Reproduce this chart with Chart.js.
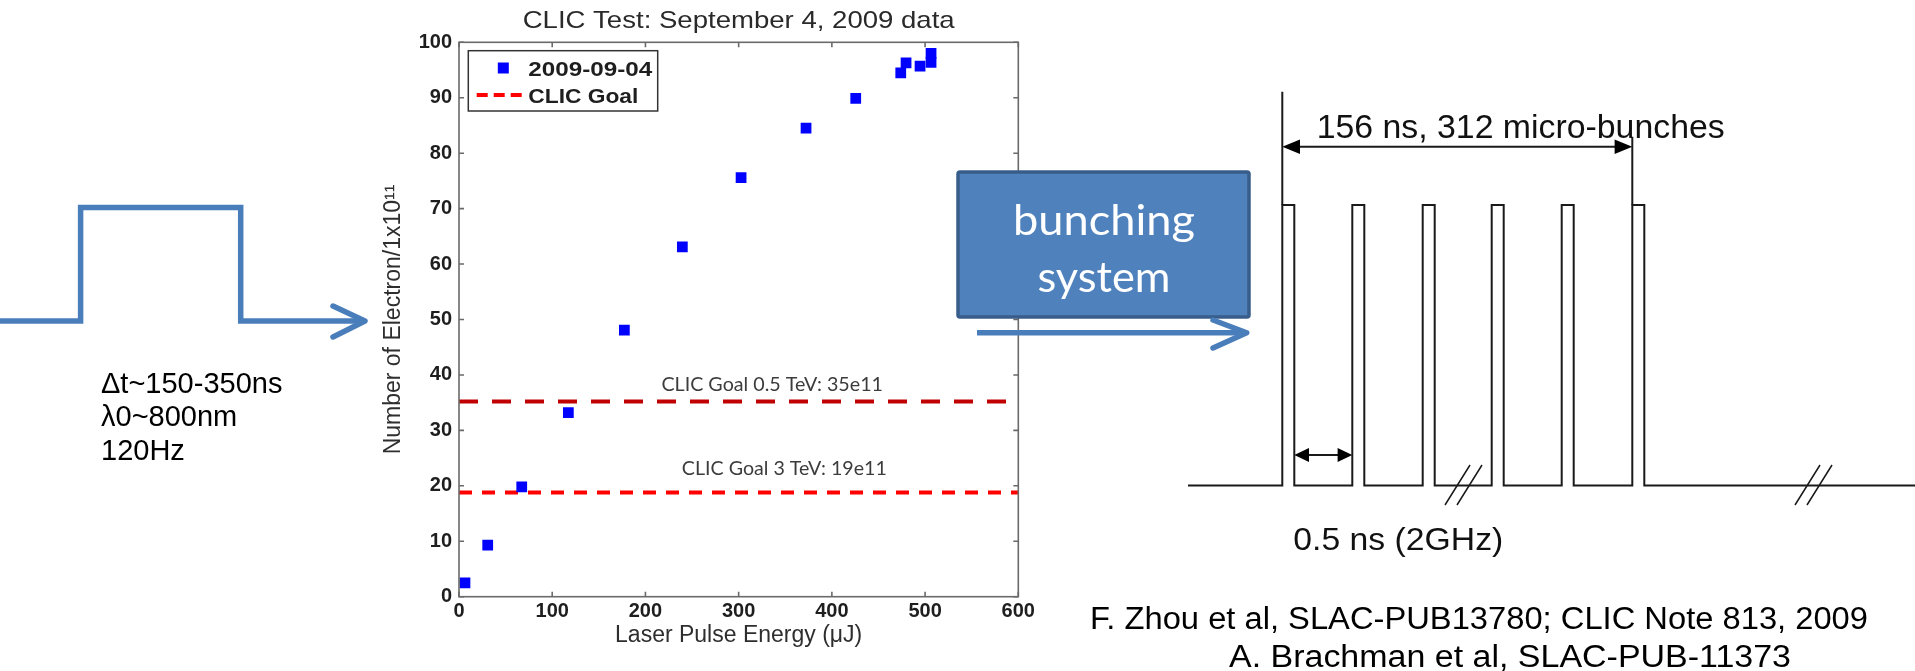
<!DOCTYPE html>
<html>
<head>
<meta charset="utf-8">
<script src="https://cdn.jsdelivr.net/npm/chart.js@4.4.1/dist/chart.umd.min.js"></script>
<style>
html,body{margin:0;padding:0;background:#fff;}
#page{position:relative;width:1915px;height:671px;overflow:hidden;}
#c{position:absolute;left:360px;top:0;}
#art{position:absolute;left:0;top:0;}
</style>
</head>
<body>
<div id="page">
<canvas id="c" width="700" height="671"></canvas>
<svg id="art" width="1915" height="671" xmlns="http://www.w3.org/2000/svg">
  <!-- input laser pulse -->
  <g fill="none" stroke="#4a7ebb" stroke-width="5.5">
    <polyline points="0,321 80.6,321 80.6,207.5 240.7,207.5 240.7,321 362,321"/>
    <polyline points="333,306 365,321 333,337" stroke-linecap="round" stroke-linejoin="round"/>
  </g>
  <g font-family="Arial, 'Liberation Sans', sans-serif" font-size="29" fill="#000">
    <text x="101" y="392.5">Δt~150-350ns</text>
    <text x="101" y="426">λ0~800nm</text>
    <text x="101" y="459.5">120Hz</text>
  </g>

  <!-- bunching system -->
  <rect x="958" y="172" width="291" height="145" rx="2" fill="#4f81bd" stroke="#385d8a" stroke-width="3.5"/>
  <g font-family="Lato, 'Open Sans', sans-serif" font-size="43" fill="#fff" text-anchor="middle">
    <text x="1104" y="234.5" textLength="182" lengthAdjust="spacingAndGlyphs">bunching</text>
    <text x="1104" y="291.5" textLength="133" lengthAdjust="spacingAndGlyphs">system</text>
  </g>
  <g fill="none" stroke="#4a7ebb" stroke-width="5.5" stroke-linecap="round" stroke-linejoin="round">
    <line x1="977" y1="332.7" x2="1243" y2="332.7" stroke-linecap="butt"/>
    <polyline points="1213,320 1246.7,332.7 1213,348"/>
  </g>

  <!-- bunch train -->
  <g fill="none" stroke="#1a1a1a" stroke-width="2">
    <path d="M1188 485.5 H1282.3 V205 H1294.3 V485.5 H1352.3 V205 H1364.3 V485.5 H1422.7 V205 H1434.7 V485.5 H1491.7 V205 H1503.7 V485.5 H1561.7 V205 H1573.7 V485.5 H1632.3 V205 H1644.3 V485.5 H1915"/>
    <path d="M1282.3 91.7 V205 M1632.3 136.7 V205"/>
    <path d="M1298 146.7 H1617"/>
    <path d="M1308 455 H1339"/>
    <path d="M1445 505 L1470 465 M1457 505 L1482 465 M1795 505 L1820 465 M1807 505 L1832 465" stroke-width="1.5"/>
  </g>
  <g fill="#000">
    <polygon points="1282.3,146.7 1300,139.5 1300,154"/>
    <polygon points="1632.3,146.7 1614.6,139.5 1614.6,154"/>
    <polygon points="1294.3,455 1309,448 1309,462"/>
    <polygon points="1352.3,455 1337.6,448 1337.6,462"/>
  </g>
  <g font-family="Arial, 'Liberation Sans', sans-serif" fill="#111">
    <text x="1316.7" y="138.3" font-size="34" textLength="408" lengthAdjust="spacingAndGlyphs">156 ns, 312 micro-bunches</text>
    <text x="1293.3" y="550" font-size="31" textLength="210" lengthAdjust="spacingAndGlyphs">0.5 ns (2GHz)</text>
  </g>
  <g font-family="Arial, 'Liberation Sans', sans-serif" font-size="31" fill="#000" text-anchor="middle">
    <text x="1479" y="629" textLength="778" lengthAdjust="spacingAndGlyphs">F. Zhou et al, SLAC-PUB13780; CLIC Note 813, 2009</text>
    <text x="1510" y="666.5" textLength="562" lengthAdjust="spacingAndGlyphs">A. Brachman et al, SLAC-PUB-11373</text>
  </g>
</svg>
</div>

<script>
Chart.defaults.font.family='Arial, "Liberation Sans", sans-serif';

// measured data: laser pulse energy (uJ) vs electrons (1e11)
const energy=[6.4,30.8,67.3,117.3,177.4,239.6,302.6,372.3,425.6,473.9,479.6,494.6,506.4,506.4];
const electrons=[2.5,9.3,19.8,33.2,48.1,63.1,75.6,84.5,89.9,94.5,96.3,95.7,96.4,98.0];
const seriesLabel="2009-09-04";

const goalLegend="CLIC Goal";
const goalValues=[35.2,18.8];
const goalTexts=["CLIC Goal 0.5 TeV: 35e11","CLIC Goal 3 TeV: 19e11"];

const xRange=[0,600];
const yRange=[0,100];
const xStep=100;
const yStep=10;

const chartTitle="CLIC Test: September 4, 2009 data";
const xTitle="Laser Pulse Energy (μJ)";
const yTitle="Number of Electron/1x10¹¹";

// where the goal captions sit, in data units
const goalLabelAt=[[336,37.1],[349,21.95]];
const goalLabelWidth=[221.6,205];

function stretchText(ctx,text,x,y,w,align){
ctx.save();
let nat=ctx.measureText(text).width;
let k=w/nat;
ctx.translate(x,y);
ctx.scale(k,1);
ctx.textAlign=align||"center";
ctx.fillText(text,0,0);
ctx.restore();
}

const frame={
id:"frame",
afterDatasetsDraw(chart){
const {ctx,chartArea:a,scales:{x,y}}=chart;
ctx.save();
ctx.strokeStyle="#6a6a6a";
ctx.lineWidth=1.6;
ctx.strokeRect(a.left,a.top,a.right-a.left,a.bottom-a.top);
ctx.beginPath();
x.ticks.forEach(t=>{
const px=x.getPixelForValue(t.value);
ctx.moveTo(px,a.bottom);ctx.lineTo(px,a.bottom-5);
ctx.moveTo(px,a.top);ctx.lineTo(px,a.top+5);
});
y.ticks.forEach(t=>{
const py=y.getPixelForValue(t.value);
ctx.moveTo(a.left,py);ctx.lineTo(a.left+5,py);
ctx.moveTo(a.right,py);ctx.lineTo(a.right-5,py);
});
ctx.stroke();
ctx.restore();
}
};

const notes={
id:"notes",
afterDraw(chart){
const {ctx,chartArea:a,scales:{x,y}}=chart;
ctx.save();
// title
ctx.fillStyle="#2a2a2a";
ctx.font="24px Arial";
stretchText(ctx,chartTitle,(a.left+a.right)/2,a.top-14,432);
// goal captions
ctx.fillStyle="#3c3c3c";
ctx.font="19px Lato";
goalTexts.forEach((t,i)=>{
stretchText(ctx,t,x.getPixelForValue(goalLabelAt[i][0]),y.getPixelForValue(goalLabelAt[i][1]),goalLabelWidth[i]);
});
// legend
const lx=a.left+9.3, ly=a.top+8.4;
ctx.fillStyle="#fff";
ctx.fillRect(lx,ly,189.4,60.3);
ctx.strokeStyle="#333";
ctx.lineWidth=1.5;
ctx.strokeRect(lx,ly,189.4,60.3);
const pts=chart.data.datasets[0];
ctx.fillStyle=pts.backgroundColor;
ctx.fillRect(lx+29.5,ly+11.8,11,11);
const gl=chart.data.datasets[2];
ctx.strokeStyle=gl.borderColor;
ctx.lineWidth=4;
ctx.setLineDash([11,6]);
ctx.beginPath();
ctx.moveTo(lx+8.4,ly+44.3);ctx.lineTo(lx+56,ly+44.3);
ctx.stroke();
ctx.setLineDash([]);
ctx.fillStyle="#1e1e1e";
ctx.font="bold 21px Arial";
stretchText(ctx,seriesLabel,lx+60,ly+25,124,"left");
stretchText(ctx,goalLegend,lx+60,ly+52,110,"left");
ctx.restore();
}
};

const pointData=energy.map((e,i)=>({x:e,y:electrons[i]}));
const goalSets=goalValues.map((v,i)=>({
label:i===0?goalLegend:goalLegend+" ",
type:"line",
data:xRange.map(xv=>({x:xv,y:v})),
borderColor:i===0?"#c00000":"#ff0000",
borderWidth:4,
borderDash:i===0?[19,14]:[13,10],
pointRadius:0,
fill:false
}));

new Chart(document.getElementById("c"),{
type:"scatter",
data:{
datasets:[{
label:seriesLabel,
data:pointData,
pointStyle:"rect",
pointRadius:7.6,
pointHoverRadius:7.6,
backgroundColor:"#0000ff",
borderWidth:0
}].concat(goalSets)
},
options:{
responsive:false,
animation:false,
layout:{padding:{top:42.3,right:41.7,bottom:0,left:0}},
plugins:{legend:{display:false},tooltip:{enabled:false},title:{display:false}},
scales:{
x:{
type:"linear",min:xRange[0],max:xRange[1],
ticks:{stepSize:xStep,color:"#1e1e1e",font:{size:20,weight:"bold"},padding:3,maxRotation:0},
grid:{drawOnChartArea:false,drawTicks:false},
border:{display:false},
title:{display:true,text:xTitle,color:"#2e2e2e",font:{size:23},padding:{top:0,bottom:22}},
afterFit:s=>{s.height=74.3;}
},
y:{
type:"linear",min:yRange[0],max:yRange[1],
ticks:{stepSize:yStep,color:"#1e1e1e",font:{size:20,weight:"bold"},padding:7},
grid:{drawOnChartArea:false,drawTicks:false},
border:{display:false},
title:{display:true,text:yTitle,color:"#2e2e2e",font:{size:23},padding:{top:20,bottom:0}},
afterFit:s=>{s.width=99;}
}
}
},
plugins:[frame,notes]
});
</script>
</body>
</html>
